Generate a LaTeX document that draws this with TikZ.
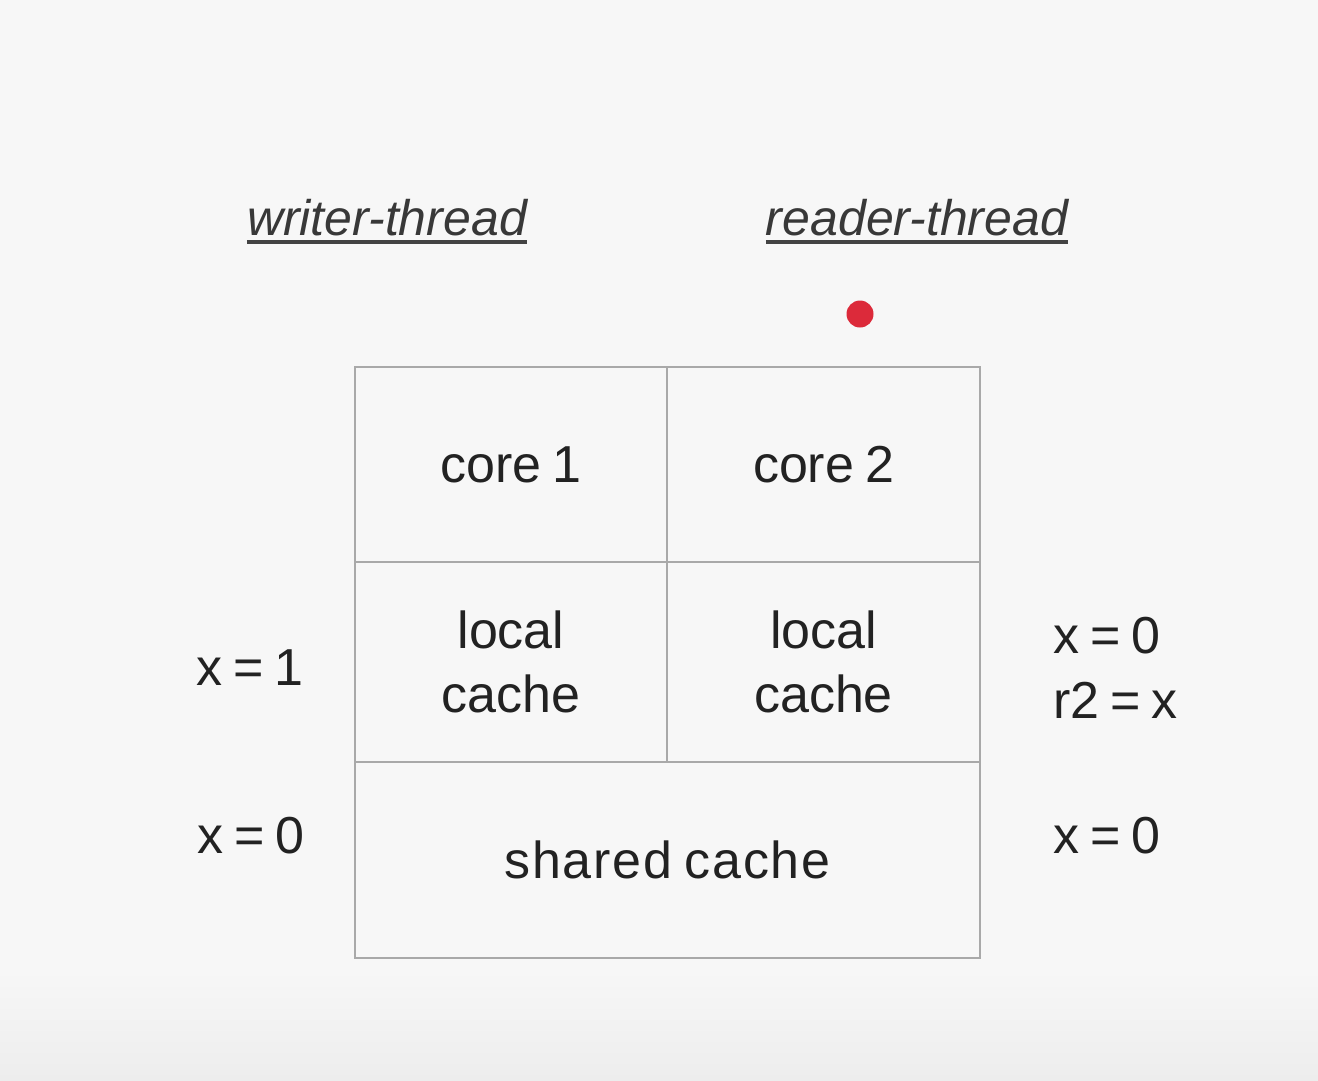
\documentclass[tikz,border=0pt]{standalone}
\usepackage{fontspec}
\setmainfont[WordSpace=0.75]{Liberation Sans}
\definecolor{bg}{HTML}{F7F7F7}
\definecolor{bgbot}{HTML}{EDEDED}
\definecolor{gridc}{HTML}{A9A9A9}
\definecolor{txt}{HTML}{222222}
\definecolor{dotred}{HTML}{DC2A3A}
\tikzset{
  cell/.style={draw=gridc, line width=2.6pt, inner sep=0pt, align=center, text=txt,
    font=\fontsize{52}{66}\selectfont},
  lbl/.style={inner sep=0pt, text=txt, font=\fontsize{52}{64}\selectfont},
  thr/.style={inner sep=0pt, anchor=base, text=txt!90!white, font=\fontsize{50}{60}\selectfont\itshape},
  uline/.style={line width=3.5pt, draw=txt!85!white}
}
\begin{document}
\begin{tikzpicture}[x=1pt,y=-1pt]
\useasboundingbox (0,0) rectangle (1318,1080);
\fill[bg] (0,0) rectangle (1318,1080);
\shade[top color=bg, bottom color=bgbot] (0,970) rectangle (1318,1080);
% thread titles
\node[thr] (wt) at (387,235) {writer-thread};
\node[thr] (rt) at (917,235) {reader-thread};
\draw[uline] ([yshift=-7pt]wt.base west) -- ([yshift=-7pt]wt.base east);
\draw[uline] ([yshift=-7pt]rt.base west) -- ([yshift=-7pt]rt.base east);
% red dot
\fill[dotred] (860,314) circle (13.5);
\coordinate (dot) at (860,314);
% grid cells
\node[cell, minimum width=312pt, minimum height=195pt] (c1) at (511,464.5) {core 1};
\node[cell, minimum width=313pt, minimum height=195pt] (c2) at (823.5,464.5) {core 2};
\node[cell, minimum width=312pt, minimum height=200pt] (l1) at (511,662) {local\\[-0.05em]cache};
\node[cell, minimum width=313pt, minimum height=200pt] (l2) at (823.5,662) {local\\[-0.05em]cache};
\node[cell, minimum width=625pt, minimum height=196pt] (sc) at (667.5,860) {\addfontfeature{LetterSpace=3.5}shared cache};
% side labels
\node[lbl] (wx1) at (250,668) {x = 1};
\node[lbl] (wx0) at (251,836) {x = 0};
\node[lbl, anchor=west] (rx0) at (1053,636) {x = 0};
\node[lbl, anchor=west] (rr2) at (1053,700) {r2 = x};
\node[lbl, anchor=west] (rs0) at (1053,836) {x = 0};
\end{tikzpicture}
\end{document}
